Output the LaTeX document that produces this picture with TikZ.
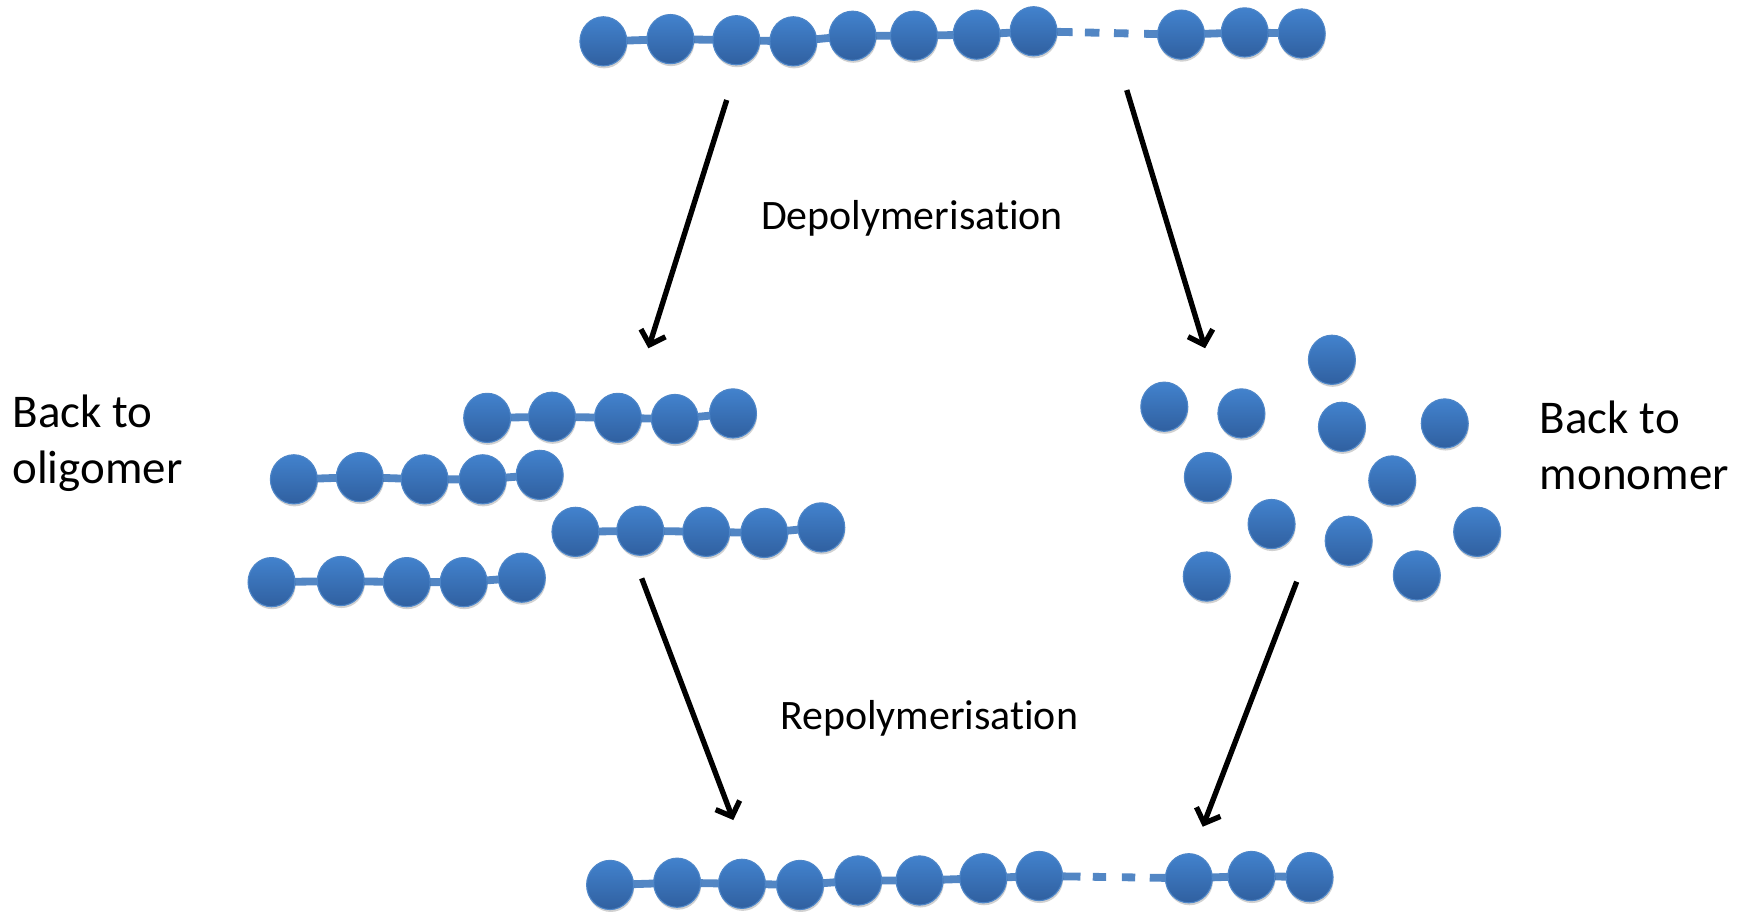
\documentclass[tikz,border=0pt]{standalone}
\usepackage{fontspec}
\setmainfont[Ligatures={NoCommon}]{Carlito}
\usetikzlibrary{shapes.geometric,arrows.meta,backgrounds,shadows}
\definecolor{beadtop}{RGB}{66,130,205}
\definecolor{beadbot}{RGB}{48,96,160}
\definecolor{beadedge}{RGB}{78,134,200}
\definecolor{linkcol}{RGB}{82,134,196}
\tikzset{
  bead/.style={shape=ellipse, minimum width=42pt, minimum height=44pt, inner sep=0pt,
    top color=beadtop, bottom color=beadbot, draw=beadedge, line width=1pt,
    drop shadow={shadow xshift=0.6pt, shadow yshift=-2.2pt, opacity=0.18, fill=black}},
  link/.style={draw=linkcol, line width=7pt},
  arr/.style={draw=black, line width=4.8pt, -{Straight Barb[length=11pt,width=23pt]}},
  biglabel/.style={anchor=base west, inner sep=0pt, font=\fontsize{42}{50}\selectfont},
  midlabel/.style={anchor=base west, inner sep=0pt, font=\fontsize{37.5}{45}\selectfont}
}
\begin{document}
\begin{tikzpicture}[x=1pt,y=-1pt]
\useasboundingbox (0,0) rectangle (1568,817);
% ---------- top chain ----------
\foreach \n/\x/\y in {1/540/37, 2/600/35, 3/659/36, 4/710/37, 5/763/32, 6/818/32,
  7/874/31, 8/925/28, 9/1057/31, 10/1114/29, 11/1165/30}
  \node[bead] (t\n) at (\x,\y) {};
% ---------- bottom chain ----------
\foreach \n/\x/\y in {1/546/792, 2/606/790, 3/664/791, 4/716/792, 5/768/788, 6/823/788,
  7/880/786, 8/930/784, 9/1064/786, 10/1120/784, 11/1172/785}
  \node[bead] (b\n) at (\x,\y) {};
% ---------- oligomers ----------
\foreach \n/\x/\y in {1/436/374, 2/494/373, 3/553/374, 4/604/375, 5/656/370}
  \node[bead] (pa\n) at (\x,\y) {};
\foreach \n/\x/\y in {1/263/429, 2/322/427, 3/380/429, 4/432/429, 5/483/425}
  \node[bead] (pb\n) at (\x,\y) {};
\foreach \n/\x/\y in {1/515/476, 2/573/475, 3/632/476, 4/684/477, 5/735/472}
  \node[bead] (pc\n) at (\x,\y) {};
\foreach \n/\x/\y in {1/243/521, 2/305/520, 3/364/521, 4/415/521, 5/467/517}
  \node[bead] (pd\n) at (\x,\y) {};
% ---------- monomers ----------
\foreach \n/\x/\y in {1/1192/322, 2/1042/364, 3/1111/370, 4/1201/382, 5/1293/379,
  6/1081/427, 7/1246/430, 8/1138/469, 9/1207/484, 10/1322/476, 11/1080/516, 12/1268/515}
  \node[bead] (m\n) at (\x,\y) {};
% ---------- links ----------
\begin{scope}[on background layer]
  \draw[link] (t1.center) -- (t2.center) -- (t3.center) -- (t4.center) -- (t5.center)
    -- (t6.center) -- (t7.center) -- (t8.center);
  \draw[link, dash pattern=on 35pt off 11pt on 13pt off 13pt on 13pt off 14pt on 200pt]
    (t8.center) -- (t9.center);
  \draw[link] (t9.center) -- (t10.center) -- (t11.center);
  \draw[link] (b1.center) -- (b2.center) -- (b3.center) -- (b4.center) -- (b5.center)
    -- (b6.center) -- (b7.center) -- (b8.center);
  \draw[link, dash pattern=on 37pt off 11pt on 12pt off 14pt on 12pt off 13pt on 200pt]
    (b8.center) -- (b9.center);
  \draw[link] (b9.center) -- (b10.center) -- (b11.center);
  \foreach \c in {pa,pb,pc,pd}
    \draw[link] (\c1.center) -- (\c2.center) -- (\c3.center) -- (\c4.center) -- (\c5.center);
\end{scope}
% ---------- arrows ----------
\coordinate (a1s) at (650.4,89.5);  \coordinate (a1e) at (580.3,311.7);
\coordinate (a2s) at (1008.4,80.6); \coordinate (a2e) at (1078.5,311.7);
\coordinate (a3s) at (574.3,517.6); \coordinate (a3e) at (656.3,733.9);
\coordinate (a4s) at (1160.5,520.6);\coordinate (a4e) at (1076.4,739.9);
\draw[arr] (a1s) -- (a1e);
\draw[arr] (a2s) -- (a2e);
\draw[arr] (a3s) -- (a3e);
\draw[arr] (a4s) -- (a4e);
% ---------- labels ----------
\node[midlabel] (depol) at (681,205) {Depolymerisat\kern0pt ion};
\node[midlabel] (repol) at (698,653) {Repolymerisat\kern0pt ion};
\node[biglabel] (lback) at (11,383) {Back to};
\node[biglabel] (lolig) at (11,433) {oligomer};
\node[biglabel] (rback) at (1378,388) {Back to};
\node[biglabel] (rmono) at (1378,438) {monomer};
\end{tikzpicture}
\end{document}
